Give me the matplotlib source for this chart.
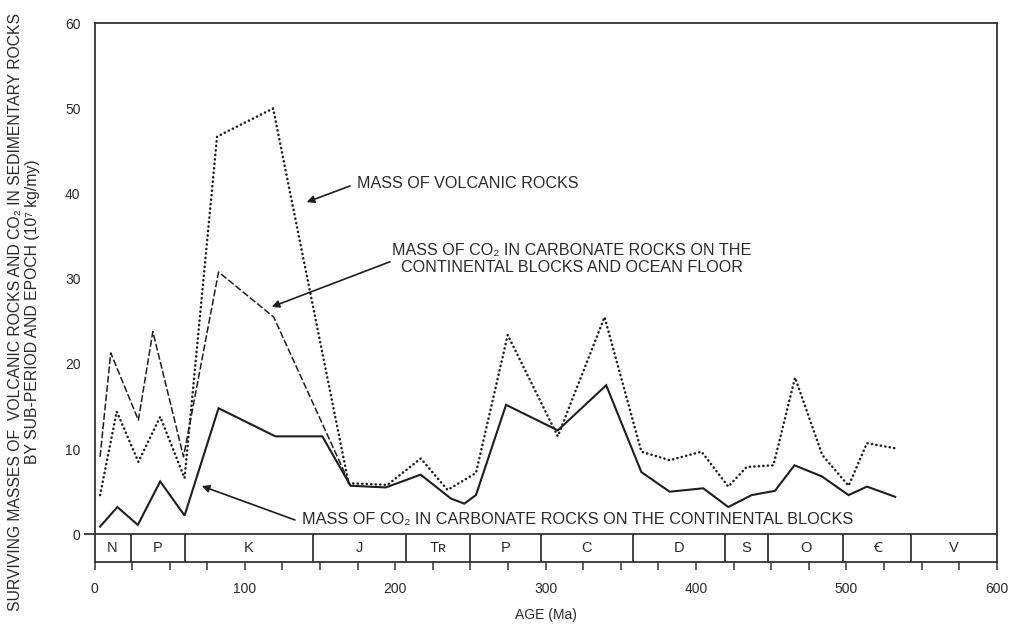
import matplotlib
matplotlib.use("Agg")
import matplotlib.pyplot as plt
from matplotlib.ticker import MultipleLocator

plt.rcParams['font.family'] = ['Liberation Sans', 'Noto Sans', 'Inter', 'Roboto',
                               'Open Sans', 'Lato', 'DejaVu Sans']

# --- data -------------------------------------------------------------
# CO2 in carbonate rocks on the continental blocks
age_continental = [3.7, 15.2, 28.8, 43.7, 59.9, 82.5, 120.3, 151.5, 170.3, 193.7,
                   216.9, 237.0, 245.9, 253.7, 273.7, 308.1, 340.3, 363.7, 382.5,
                   404.8, 421.5, 437.0, 452.5, 465.5, 483.7, 501.5, 513.7, 532.5]
co2_continental = [0.9, 3.2, 1.1, 6.2, 2.2, 14.8, 11.5, 11.5, 5.7, 5.5,
                   7.0, 4.2, 3.6, 4.6, 15.2, 12.2, 17.5, 7.3, 5.0,
                   5.4, 3.2, 4.6, 5.1, 8.1, 6.8, 4.6, 5.6, 4.4]

# volcanic rocks
age_volcanic = [3.7, 14.8, 29.2, 43.7, 59.9, 81.5, 118.8, 169.0, 194.8, 217.0,
                234.8, 253.7, 274.8, 308.1, 339.2, 363.7, 382.5, 403.7, 421.5,
                433.7, 451.5, 465.9, 484.0, 501.5, 513.7, 532.5]
mass_volcanic = [4.6, 14.4, 8.5, 13.8, 6.6, 46.7, 50.0, 6.0, 5.8, 8.9,
                 5.2, 7.2, 23.4, 11.5, 25.5, 9.7, 8.7, 9.7, 5.6,
                 7.9, 8.1, 18.4, 9.3, 5.7, 10.7, 10.1]

# CO2 in carbonate rocks on the continental blocks and ocean floor
age_total = [3.7, 10.8, 29.2, 38.8, 59.2, 82.5, 119.2, 170.3]
co2_total = [9.1, 21.3, 13.4, 23.8, 9.1, 30.8, 25.5, 5.7]

# geological time scale (Ma)
period_bounds = [0, 24, 60, 145, 207, 250, 297, 358, 419, 448, 498, 543, 600]
period_names = ['N', 'P', 'K', 'J', 'T\u0280', 'P', 'C', 'D', 'S', 'O', '\uA792', 'V']

y_ticks = [0, 10, 20, 30, 40, 50, 60]
x_ticks = [0, 100, 200, 300, 400, 500, 600]

# --- figure -----------------------------------------------------------
ink = '#1e1e1e'
txt = '#2a2a2a'
W, H = 1019, 625
fig = plt.figure(figsize=(W / 100, H / 100), dpi=100)
ax = fig.add_axes([94.5 / W, 62.7 / H, (996.7 - 94.5) / W, (562.3 - 23.3) / H])

bar_bottom = -3.29
ax.set_xlim(0, 600)
ax.set_ylim(bar_bottom, 60)

for s in ax.spines.values():
    s.set_linewidth(1.3)
    s.set_color('#333333')

# series
ax.plot(age_continental, co2_continental, color=ink, lw=1.5, solid_joinstyle='miter')
ax.plot(age_volcanic, mass_volcanic, color=ink, lw=1.8,
        linestyle=(0, (0.1, 1.7)), dash_capstyle='round')
ax.plot(age_total, co2_total, color=ink, lw=1.1, linestyle=(0, (4.5, 1.6)))

# time-scale strip under the zero line
ax.plot([-6, 600], [0, 0], color='#333333', lw=1.3, clip_on=False, zorder=3)
ax.vlines(period_bounds[1:-1], bar_bottom, 0, color='#333333', lw=1.3)
for i, name in enumerate(period_names):
    mid = 0.5 * (period_bounds[i] + period_bounds[i + 1])
    ax.text(mid, bar_bottom / 2, name, ha='center', va='center',
            fontsize=10.5, color=txt)

# axes ticks
ax.set_xticks(x_ticks)
ax.xaxis.set_minor_locator(MultipleLocator(25))
ax.tick_params(axis='x', which='both', direction='out', length=6, width=1.1,
               color='#333333', labelsize=10, labelcolor=txt, pad=8)
ax.set_yticks(y_ticks)
ax.tick_params(axis='y', length=0, pad=10, labelsize=10, labelcolor=txt)

ax.set_xlabel('AGE (Ma)', fontsize=10, color=txt, labelpad=9)

fig.text(24 / W, 1 - 312 / H,
         'SURVIVING MASSES OF  VOLCANIC ROCKS AND CO\u2082 IN SEDIMENTARY ROCKS\n'
         'BY SUB-PERIOD AND EPOCH (10\u2077 kg/my)',
         rotation=90, ha='center', va='center', multialignment='center',
         fontsize=11.3, color=txt, linespacing=1.1)

# labels with arrows
arrow = dict(arrowstyle='-|>', color=ink, lw=1.2, mutation_scale=11, shrinkA=0, shrinkB=0)
ax.text(174.4, 41.2, 'MASS OF VOLCANIC ROCKS', ha='left', va='center',
        fontsize=11.6, color=txt)
ax.annotate('', xy=(141.1, 39.0), xytext=(169.9, 40.9), arrowprops=arrow)

ax.text(317.5, 32.3, 'MASS OF CO\u2082 IN CARBONATE ROCKS ON THE\n'
        'CONTINENTAL BLOCKS AND OCEAN FLOOR', ha='center', va='center',
        fontsize=11.6, color=txt, linespacing=1.15)
ax.annotate('', xy=(117.8, 26.7), xytext=(196.5, 32.0), arrowprops=arrow)

ax.text(137.8, 1.68, 'MASS OF CO\u2082 IN CARBONATE ROCKS ON THE CONTINENTAL BLOCKS',
        ha='left', va='center', fontsize=11.7, color=txt)
ax.annotate('', xy=(71.3, 5.67), xytext=(133.3, 1.68), arrowprops=arrow)

fig.savefig('out.png', dpi=100, facecolor='white')
